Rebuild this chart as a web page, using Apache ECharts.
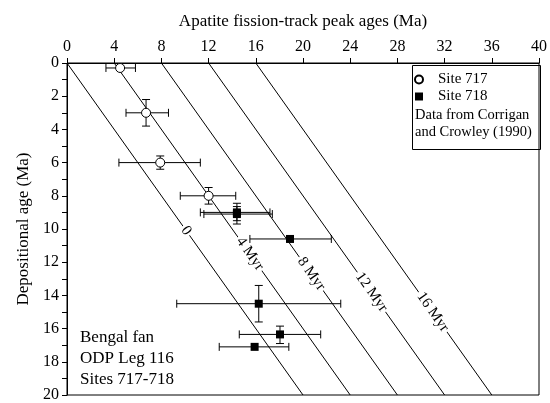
<!DOCTYPE html>
<html><head><meta charset="utf-8">
<script src="https://cdn.jsdelivr.net/npm/echarts@6/dist/echarts.min.js"></script>
<style>html,body{margin:0;padding:0;background:#fff}#c{width:550px;height:403px}</style>
</head><body><div id="c"></div>
<script>
// Lag-time reference lines (peak age = depositional age + lag)
const lagValues = [0, 4, 8, 12, 16];
const lagLabels = ['0', '4 Myr', '8 Myr', '12 Myr', '16 Myr'];
const lagLabelDepth = [10.1, 11.5, 12.7, 13.8, 15.0];
const depoRange = [0, 20];

// Site 717
const site717Peak = [4.5, 6.7, 7.9, 12.0];
const site717Depo = [0.3, 3.0, 6.0, 8.0];
const site717PeakLow = [3.3, 5.0, 4.4, 9.6];
const site717PeakHigh = [5.8, 8.6, 11.3, 14.3];
const site717DepoLow = [0.3, 2.2, 5.6, 7.5];
const site717DepoHigh = [0.3, 3.8, 6.4, 8.5];

// Site 718
const site718Peak = [14.4, 14.4, 18.9, 16.25, 18.05, 15.9];
const site718Depo = [9.0, 9.1, 10.6, 14.5, 16.35, 17.1];
const site718PeakLow = [11.3, 11.6, 15.5, 9.3, 14.6, 12.9];
const site718PeakHigh = [17.2, 17.4, 22.4, 23.2, 21.5, 18.8];
const site718DepoLow = [8.45, 8.65, 10.45, 13.4, 15.85, 17.1];
const site718DepoHigh = [9.5, 9.7, 10.75, 15.6, 16.9, 17.1];

const serif = 'Liberation Serif';

function errData(px, py, pl, ph, dl, dh) {
  return px.map((v, i) => [v, py[i], pl[i], ph[i], dl[i], dh[i]]);
}
function renderErr(params, api) {
  const x = api.value(0), y = api.value(1);
  const xl = api.value(2), xh = api.value(3), yl = api.value(4), yh = api.value(5);
  const c = 4;
  const a = api.coord([xl, y]), b = api.coord([xh, y]);
  const children = [];
  const st = {stroke: '#000', lineWidth: 1};
  children.push({type: 'line', shape: {x1: a[0], y1: a[1], x2: b[0], y2: b[1]}, style: st});
  children.push({type: 'line', shape: {x1: a[0], y1: a[1] - c, x2: a[0], y2: a[1] + c}, style: st});
  children.push({type: 'line', shape: {x1: b[0], y1: b[1] - c, x2: b[0], y2: b[1] + c}, style: st});
  if (yh - yl > 0.01) {
    const p = api.coord([x, yl]), q = api.coord([x, yh]);
    children.push({type: 'line', shape: {x1: p[0], y1: p[1], x2: q[0], y2: q[1]}, style: st});
    children.push({type: 'line', shape: {x1: p[0] - c, y1: p[1], x2: p[0] + c, y2: p[1]}, style: st});
    children.push({type: 'line', shape: {x1: q[0] - c, y1: q[1], x2: q[0] + c, y2: q[1]}, style: st});
  }
  return {type: 'group', children};
}

const chart = echarts.init(document.getElementById('c'));
chart.setOption({
  animation: false,
  backgroundColor: '#fff',
  grid: {left: 67, right: 11, top: 63, bottom: 3, show: true, borderColor: '#000', borderWidth: 1},
  xAxis: {
    type: 'value', position: 'top', min: 0, max: 40, interval: 4,
    name: 'Apatite fission-track peak ages (Ma)', nameLocation: 'middle', nameGap: 33,
    nameTextStyle: {fontFamily: serif, fontSize: 17, color: '#000'},
    axisLine: {onZero: false, lineStyle: {color: '#000'}},
    axisTick: {show: true, length: 5, lineStyle: {color: '#000'}},
    axisLabel: {fontFamily: serif, fontSize: 16, color: '#000', margin: 8},
    splitLine: {show: false}
  },
  yAxis: {
    type: 'value', inverse: true, min: 0, max: 20, interval: 2,
    name: 'Depositional age (Ma)', nameLocation: 'middle', nameGap: 35,
    nameTextStyle: {fontFamily: serif, fontSize: 17, color: '#000'},
    axisLine: {onZero: false, lineStyle: {color: '#000'}},
    axisTick: {show: true, length: 5, lineStyle: {color: '#000'}},
    minorTick: {show: true, splitNumber: 2, length: 5, lineStyle: {color: '#000'}},
    axisLabel: {fontFamily: serif, fontSize: 16, color: '#000', margin: 8},
    splitLine: {show: false}
  },
  legend: {
    orient: 'vertical', left: 414, top: 72, itemWidth: 8, itemHeight: 8, itemGap: 2, padding: 0,
    textStyle: {fontFamily: serif, fontSize: 15, color: '#000', padding: [0, 0, 0, 10], lineHeight: 15},
    data: ['Site 717', 'Site 718']
  },
  graphic: [
    {type: 'rect', left: 410, top: 63, shape: {width: 128, height: 84}, style: {fill: 'none', stroke: '#000', lineWidth: 1}, z: 10},
    {type: 'text', left: 415, top: 107, style: {text: 'Data from Corrigan\nand Crowley (1990)', fontFamily: serif, fontSize: 14.5, lineHeight: 17, fill: '#000'}, z: 10},
    {type: 'text', left: 80, top: 327, style: {text: 'Bengal fan\nODP Leg 116\nSites 717-718', fontFamily: serif, fontSize: 17, lineHeight: 21, fill: '#000'}, z: 10}
  ],
  series: [
    {
      type: 'custom', name: 'lags', silent: true, z: 1,
      data: lagValues.map((v, i) => [v, lagLabelDepth[i], i]),
      renderItem: function (params, api) {
        const lag = api.value(0), d = api.value(1), idx = api.value(2);
        const p0 = api.coord([lag + depoRange[0], depoRange[0]]);
        const p1 = api.coord([lag + depoRange[1], depoRange[1]]);
        const pm = api.coord([lag + d, d]);
        const ang = Math.atan2(p1[1] - p0[1], p1[0] - p0[0]);
        return {type: 'group', children: [
          {type: 'line', shape: {x1: p0[0], y1: p0[1], x2: p1[0], y2: p1[1]}, style: {stroke: '#000', lineWidth: 1}},
          {type: 'text', x: pm[0], y: pm[1], rotation: -ang, z2: 5,
           style: {text: lagLabels[idx], fontFamily: serif, fontSize: 15, fill: '#000', align: 'center', verticalAlign: 'middle',
                   backgroundColor: '#fff', padding: [0, 2]}}
        ]};
      }
    },
    {type: 'custom', name: 'err717', silent: true, z: 2,
     data: errData(site717Peak, site717Depo, site717PeakLow, site717PeakHigh, site717DepoLow, site717DepoHigh), renderItem: renderErr},
    {type: 'custom', name: 'err718', silent: true, z: 2,
     data: errData(site718Peak, site718Depo, site718PeakLow, site718PeakHigh, site718DepoLow, site718DepoHigh), renderItem: renderErr},
    {type: 'scatter', name: 'Site 717', z: 3, symbol: 'circle', symbolSize: 9,
     itemStyle: {color: '#fff', borderColor: '#000', borderWidth: 1, opacity: 1},
     data: site717Peak.map((v, i) => [v, site717Depo[i]])},
    {type: 'scatter', name: 'Site 718', z: 3, symbol: 'rect', symbolSize: 8,
     itemStyle: {color: '#000', opacity: 1},
     data: site718Peak.map((v, i) => [v, site718Depo[i]])}
  ]
});
</script></body></html>
